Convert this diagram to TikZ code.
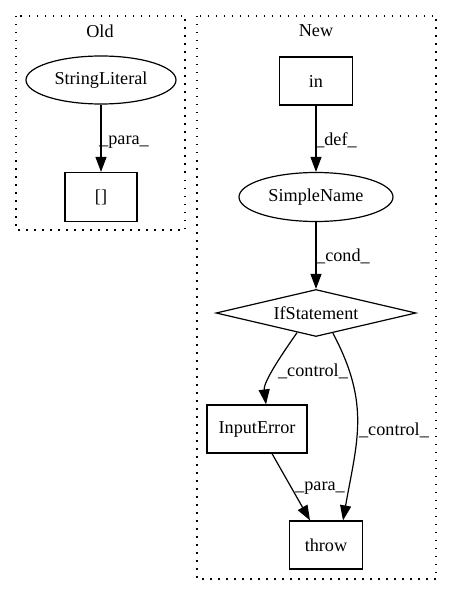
\documentclass[tikz,border=0pt]{standalone}
\usepackage{fontspec}
\setmainfont{Liberation Serif}
\usetikzlibrary{shapes.geometric,arrows.meta}
\begin{document}
\begin{tikzpicture}[x=1pt,y=1pt,
  every node/.style={font=\fontsize{18.2}{20}\selectfont, inner sep=0pt},
  cluster/.style={draw, line width=1.3pt, dash pattern=on 1.5pt off 6.5pt},
  boxnode/.style={draw, line width=1.2pt, rectangle},
  ellnode/.style={draw, line width=1.2pt, ellipse},
  dianode/.style={draw, line width=1.2pt, diamond},
  edge/.style={line width=1.2pt, -{Triangle[length=15pt,width=11pt]}},
  elabel/.style={}
]
\useasboundingbox (0,0) rectangle (451,-596);
% clusters
\draw[cluster] (16,-16) rectangle (185,-230);
\draw[cluster] (197,-16) rectangle (436,-579);
\node (oldlabel) at (100,-31) {Old};
\node (newlabel) at (316,-31) {New};
% Old nodes
\node[ellnode, minimum width=150, minimum height=48] (sl) at (101,-80) {StringLiteral};
\node[boxnode, minimum width=72, minimum height=49] (br) at (101,-197) {[]};
% New nodes
\node[boxnode, minimum width=73, minimum height=48] (in) at (316,-81) {in};
\node[ellnode, minimum width=154, minimum height=49] (sn) at (316,-197) {SimpleName};
\node[dianode, minimum width=200, minimum height=47, aspect=4.2] (if) at (316,-313) {IfStatement};
\node[boxnode, minimum width=100, minimum height=48] (ie) at (257,-429) {InputError};
\node[boxnode, minimum width=73, minimum height=48] (th) at (326,-545) {throw};
% edges
\draw[edge] (sl) -- (br);
\draw[edge] (in) -- (sn);
\draw[edge] (sn) -- (if);
\draw[edge] (if.-134) to[out=-125, in=97, looseness=0.75] (ie.north -| 266,0);
\draw[edge] (if.-50) to[out=-62, in=80, looseness=1.1] (th.north -| 343,0);
\draw[edge] (ie.south -| 272,0) -- (th.north -| 310,0);
% edge labels
\node[elabel] (l1) at (124,-142) {\_para\_};
\node[elabel] (l2) at (336,-140) {\_def\_};
\node[elabel] (l3) at (343,-256) {\_cond\_};
\node[elabel] (l4) at (313,-371) {\_control\_};
\node[elabel] (l5) at (394,-430) {\_control\_};
\node[elabel] (l6) at (320,-488) {\_para\_};
\end{tikzpicture}
\end{document}
